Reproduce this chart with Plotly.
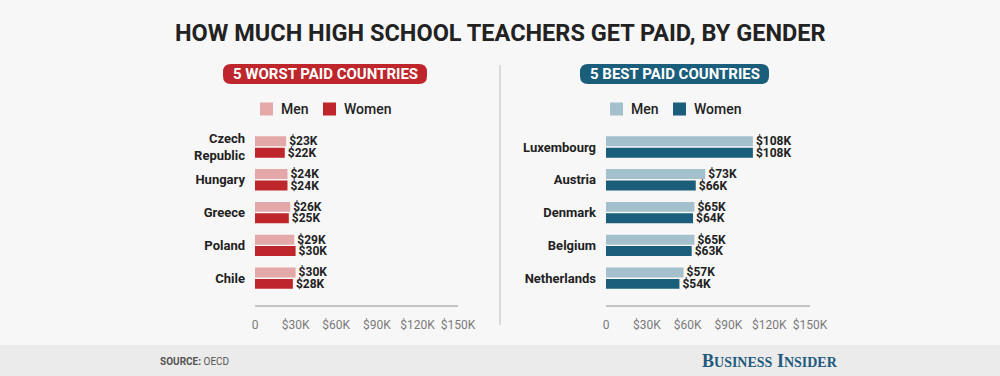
import plotly.graph_objects as go

W, H = 1000, 376

worst_countries = ["Czech<br>Republic", "Hungary", "Greece", "Poland", "Chile"]
worst_men = [23, 24, 26, 29, 30]
worst_women = [22, 24, 25, 30, 28]

best_countries = ["Luxembourg", "Austria", "Denmark", "Belgium", "Netherlands"]
best_men = [108, 73, 65, 65, 57]
best_women = [108, 66, 64, 63, 54]

tick_vals = [0, 30, 60, 90, 120, 150]
tick_text = ["0", "$30K", "$60K", "$90K", "$120K", "$150K"]

RED_L, RED_D = "#e4a8a9", "#be262b"
BLUE_L, BLUE_D = "#a4c0cc", "#1a5e7b"
BG = "#f7f7f7"
FONT = "Roboto"


def px(y):
    return 1 - y / H


fig = go.Figure()

for cats, men, women, cl, cd, xa, ya in [
    (worst_countries, worst_men, worst_women, RED_L, RED_D, "x", "y"),
    (best_countries, best_men, best_women, BLUE_L, BLUE_D, "x2", "y2"),
]:
    for vals, col, name in [(men, cl, "Men"), (women, cd, "Women")]:
        fig.add_trace(go.Bar(
            y=cats, x=vals, orientation="h", name=name,
            marker=dict(color=col, line=dict(width=0)),
            text=[f"${v}K" for v in vals], texttemplate="%{text}", textposition="outside",
            constraintext="none",
            textfont=dict(family=FONT, size=12, color="#222", weight="bold"),
            cliponaxis=False, showlegend=False, xaxis=xa, yaxis=ya,
            hoverinfo="skip",
        ))

ydom = [px(305), px(130.7)]
xcommon = dict(range=[0, 150], tickvals=tick_vals, ticktext=tick_text,
               showgrid=False, zeroline=False, showline=True, linecolor="#c4c4c4",
               linewidth=2, ticks="", ticklabelstandoff=8, automargin=False,
               tickfont=dict(family=FONT, size=12, color="#7a7a7a"), fixedrange=True)
ycommon = dict(type="category", range=[4.82, -0.5], showgrid=False, zeroline=False,
               showline=False, ticks="", ticklabelstandoff=9, automargin=False,
               tickfont=dict(family=FONT, size=13, color="#222", weight="bold"), fixedrange=True)

fig.update_layout(
    width=W, height=H, margin=dict(l=0, r=0, t=0, b=0, autoexpand=False),
    paper_bgcolor=BG, plot_bgcolor=BG,
    barmode="group", bargap=0.3, bargroupgap=0.13,
    xaxis=dict(domain=[255 / W, 458 / W], anchor="y", **xcommon),
    yaxis=dict(domain=ydom, anchor="x", **ycommon),
    xaxis2=dict(domain=[606 / W, 810 / W], anchor="y2", **xcommon),
    yaxis2=dict(domain=ydom, anchor="x2", **ycommon),
)

shapes = []
annotations = []

shapes.append(dict(type="rect", xref="paper", yref="paper", x0=0, x1=1, y0=0, y1=px(345),
                   fillcolor="#ebebeb", line=dict(width=0), layer="below"))
shapes.append(dict(type="line", xref="paper", yref="paper", x0=0.5, x1=0.5, y0=px(325), y1=px(65),
                   line=dict(color="#cfcfcf", width=1.5)))


def pill_shape(x0, x1, y0, y1, color):
    X0, X1 = x0 / W, x1 / W
    Y0, Y1 = px(y1), px(y0)
    rx, ry = 8 / W, 8 / H
    path = (f"M{X0 + rx},{Y0} L{X1 - rx},{Y0} Q{X1},{Y0} {X1},{Y0 + ry} L{X1},{Y1 - ry} "
            f"Q{X1},{Y1} {X1 - rx},{Y1} L{X0 + rx},{Y1} Q{X0},{Y1} {X0},{Y1 - ry} "
            f"L{X0},{Y0 + ry} Q{X0},{Y0} {X0 + rx},{Y0} Z")
    return dict(type="path", xref="paper", yref="paper", path=path,
                fillcolor=color, line=dict(width=0))


shapes.append(pill_shape(223, 427, 64, 84, RED_D))
shapes.append(pill_shape(580, 769, 64, 84, BLUE_D))
annotations.append(dict(x=325 / W, y=px(74), xref="paper", yref="paper", text="5 WORST PAID COUNTRIES",
                        showarrow=False, font=dict(family=FONT, size=15, color="white", weight="bold"),
                        xanchor="center", yanchor="middle"))
annotations.append(dict(x=674.5 / W, y=px(74), xref="paper", yref="paper", text="5 BEST PAID COUNTRIES",
                        showarrow=False, font=dict(family=FONT, size=15, color="white", weight="bold"),
                        xanchor="center", yanchor="middle"))

for off, cl, cd in [(0, RED_L, RED_D), (350, BLUE_L, BLUE_D)]:
    for sx, col, label, tx in [(260, cl, "Men", 279), (323, cd, "Women", 342)]:
        shapes.append(dict(type="rect", xref="paper", yref="paper",
                           x0=(sx + off) / W, x1=(sx + off + 13) / W, y0=px(115.5), y1=px(102.5),
                           fillcolor=col, line=dict(width=0)))
        annotations.append(dict(x=(tx + off) / W, y=px(109), xref="paper", yref="paper", text=label,
                                showarrow=False, xanchor="left", yanchor="middle",
                                font=dict(family=FONT, size=14, color="#222", weight=500)))

annotations.append(dict(x=0.5, y=px(33), xref="paper", yref="paper",
                        text="HOW MUCH HIGH SCHOOL TEACHERS GET PAID, BY GENDER",
                        showarrow=False, xanchor="center", yanchor="middle",
                        font=dict(family=FONT, size=23.5, color="#222", weight="bold")))

annotations.append(dict(x=158 / W, y=px(361), xref="paper", yref="paper",
                        text="<b>SOURCE:</b> OECD", showarrow=False, xanchor="left", yanchor="middle",
                        font=dict(family=FONT, size=10, color="#555")))
annotations.append(dict(x=840 / W, y=px(361), xref="paper", yref="paper",
                        text=("<b>B<span style='font-size:14px'>USINESS</span> "
                              "I<span style='font-size:14px'>NSIDER</span></b>"),
                        showarrow=False, xanchor="right", yanchor="middle",
                        font=dict(family="Liberation Serif", size=18, color="#1f5a7d")))

fig.update_layout(shapes=shapes, annotations=annotations)

fig.write_html("out.html")
